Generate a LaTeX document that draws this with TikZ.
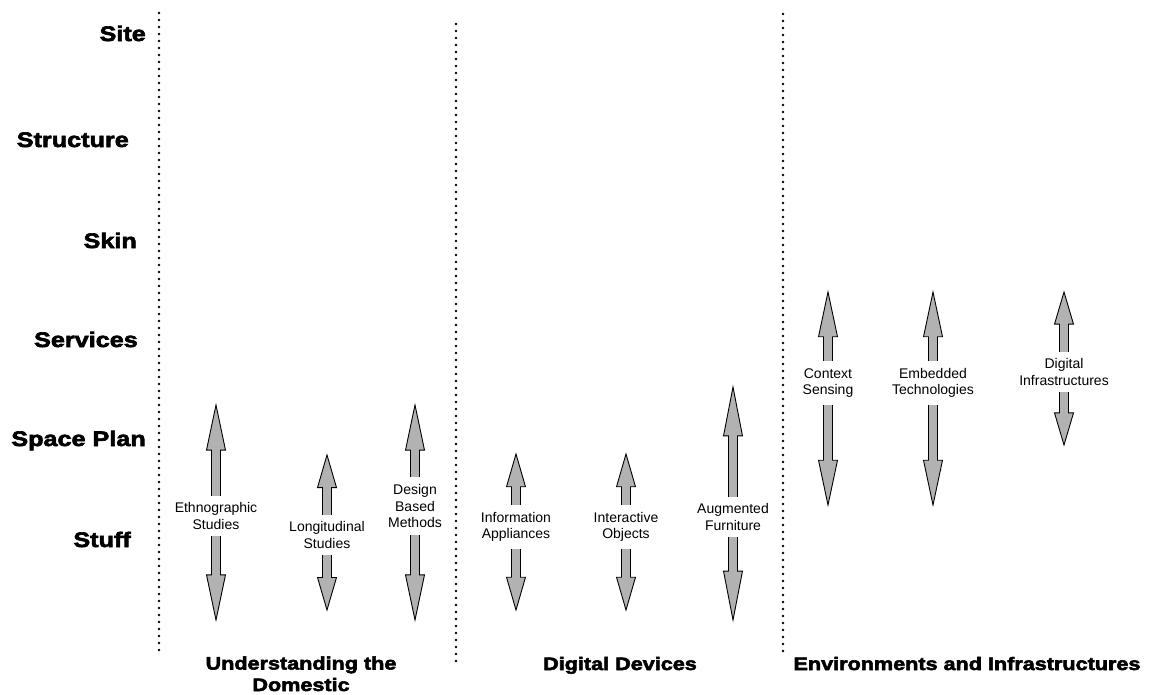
\documentclass[tikz,border=0pt]{standalone}
\usepackage{fontspec}
\setmainfont{Liberation Sans}
\newfontfamily\blk[FakeStretch=1.2,FakeBold=3]{Liberation Sans Bold}
\begin{document}
\begin{tikzpicture}[x=1pt,y=-1pt,
  rowlab/.style={anchor=base east,inner sep=0pt,font=\blk\fontsize{21}{24}\selectfont},
  collab/.style={anchor=base,inner sep=0pt,align=center,font=\blk\fontsize{18}{21.5}\selectfont},
  sep/.style={line width=2.9pt,line cap=round,dash pattern=on 0pt off 7pt},
  arrlab/.style={fill=white,inner xsep=1pt,inner ysep=7pt,align=center,font=\fontsize{14}{16.5}\selectfont},
  arrbody/.style={draw=black,fill=black!30,line width=0.9pt,line join=miter}]
\useasboundingbox (0,0) rectangle (1153,694);
\newcommand\dblarr[6]{%
  \pgfmathsetmacro\hl{0.21*(#4-#3)}%
  \draw[arrbody] (#2,#3) -- ++(9.5,\hl) -- ++(-5,0) -- (#2+4.5,#4-\hl) -- ++(5,0) -- (#2,#4)
     -- ++(-9.5,-\hl) -- ++(5,0) -- (#2-4.5,#3+\hl) -- ++(-5,0) -- cycle;
  \node[arrlab] (#1) at (#2,#5) {#6};}
% row labels
\node[rowlab] (site) at (146,41) {Site};
\node[rowlab] (structure) at (129,147) {Structure};
\node[rowlab] (skin) at (137,248) {Skin};
\node[rowlab] (services) at (138,347) {Services};
\node[rowlab] (spaceplan) at (146,446) {Space Plan};
\node[rowlab] (stuff) at (131,547) {Stuff};
% separators
\coordinate (s1a) at (159,13); \coordinate (s1b) at (159,654);
\coordinate (s2a) at (456,24); \coordinate (s2b) at (456,664);
\coordinate (s3a) at (783,14); \coordinate (s3b) at (783,655);
\draw[sep] (s1a) -- (s1b);
\draw[sep] (s2a) -- (s2b);
\draw[sep] (s3a) -- (s3b);
% arrows
\dblarr{ethno}{216}{405}{620}{516}{Ethnographic\\Studies}
\dblarr{longi}{327}{455}{610}{535}{Longitudinal\\Studies}
\dblarr{design}{415}{405}{620}{506}{Design\\Based\\Methods}
\dblarr{info}{516}{454}{610}{527}{Information\\Appliances}
\dblarr{inter}{626}{454}{610}{527}{Interactive\\Objects}
\dblarr{augm}{733}{387}{620}{517}{Augmented\\Furniture}
\dblarr{context}{828}{292}{505}{383}{Context\\Sensing}
\dblarr{embed}{933}{292}{505}{383}{Embedded\\Technologies}
\dblarr{digit}{1064}{292}{445}{372}{Digital\\Infrastructures}
% column labels
\node[collab] (col1) at (301,691) {Understanding the\\Domestic};
\node[collab] (col2) at (620,670) {Digital Devices};
\node[collab] (col3) at (967,670) {Environments and Infrastructures};
\end{tikzpicture}
\end{document}
